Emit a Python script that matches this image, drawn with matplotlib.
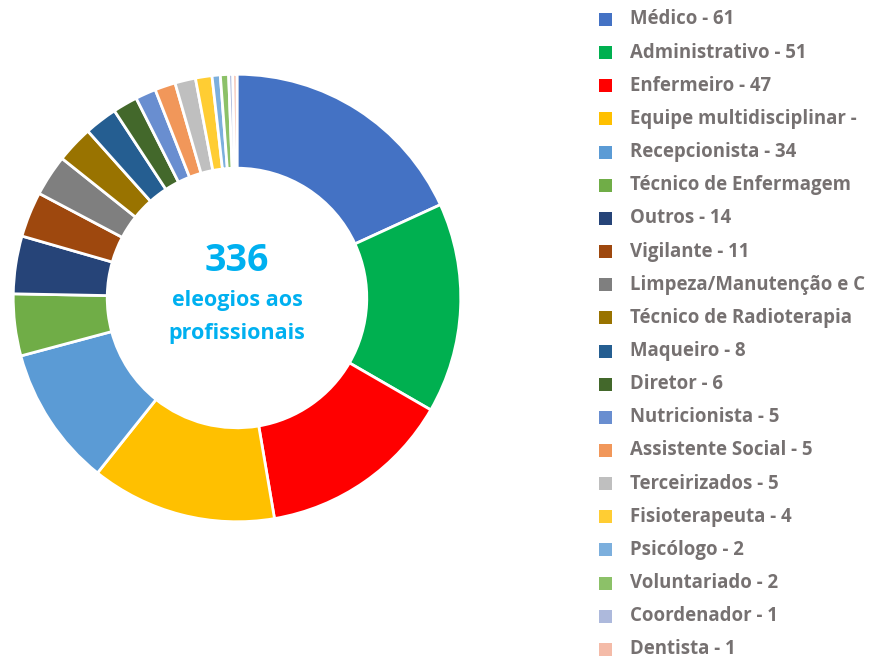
import matplotlib
matplotlib.use('Agg')
import matplotlib.pyplot as plt
from matplotlib.patches import Rectangle

labels = ["Médico - 61", "Administrativo - 51", "Enfermeiro - 47",
          "Equipe multidisciplinar -", "Recepcionista - 34",
          "Técnico de Enfermagem", "Outros - 14", "Vigilante - 11",
          "Limpeza/Manutenção e C", "Técnico de Radioterapia",
          "Maqueiro - 8", "Diretor - 6", "Nutricionista - 5",
          "Assistente Social - 5", "Terceirizados - 5",
          "Fisioterapeuta - 4", "Psicólogo - 2", "Voluntariado - 2",
          "Coordenador - 1", "Dentista - 1"]
values = [61, 51, 47, 45, 34, 15, 14, 11, 10, 9, 8, 6, 5, 5, 5, 4, 2, 2, 1, 1]
colors = ["#4472C4", "#00B050", "#FF0000", "#FFC000", "#5B9BD5", "#70AD47",
          "#264478", "#9E480E", "#7F7F7F", "#997300", "#255E91", "#43682B",
          "#698ED0", "#F1975A", "#BFBFBF", "#FFCD33", "#7CAFDD", "#8CC168",
          "#ADB9DC", "#F4BBA8"]

fig = plt.figure(figsize=(8.7, 6.62), dpi=100)
W, H = 870, 662

# donut
ax = fig.add_axes([11 / W, 138 / H, 452 / W, 452 / H])
ax.pie(values, colors=colors, startangle=90, counterclock=False, radius=1,
       wedgeprops=dict(width=0.42, edgecolor='white', linewidth=2))
ax.set_xlim(-1.01, 1.01)
ax.set_ylim(-1.01, 1.01)
ax.set_aspect('equal')
ax.axis('off')

total = sum(values)
ax.text(0, 0.165, str(total), ha='center', va='center', fontsize=27,
        fontweight='bold', color='#00B0F0', family='Open Sans')
ax.text(0, -0.01, "eleogios aos", ha='center', va='center', fontsize=15.5,
        fontweight='bold', color='#00B0F0', family='Open Sans')
ax.text(0, -0.16, "profissionais", ha='center', va='center', fontsize=15.5,
        fontweight='bold', color='#00B0F0', family='Open Sans')

# legend
y0, step = 19.5, 33.15
for i, (lab, col) in enumerate(zip(labels, colors)):
    yc = y0 + i * step
    fig.patches.append(Rectangle((599 / W, 1 - (yc + 6.5) / H), 13 / W, 13 / H,
                                 transform=fig.transFigure, facecolor=col,
                                 edgecolor='none'))
    fig.text(630 / W, 1 - yc / H, lab, ha='left', va='center', fontsize=13.4,
             fontweight='bold', color='#767171', family='Open Sans')

fig.savefig('out.png', dpi=100)
